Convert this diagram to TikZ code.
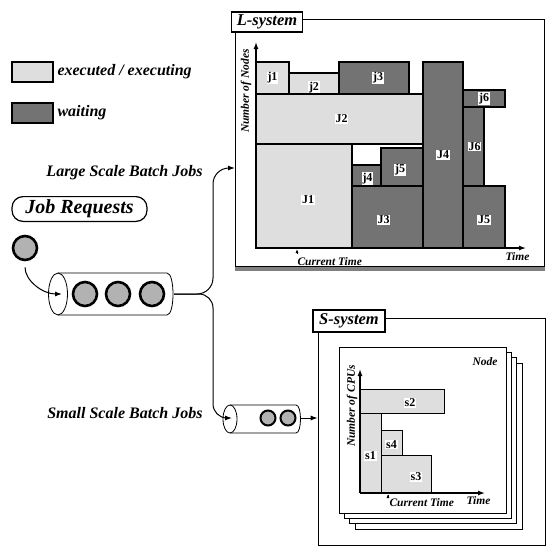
\documentclass[tikz,border=0pt]{standalone}
\usepackage{fontspec}
\setmainfont{Liberation Serif}
\usetikzlibrary{arrows.meta,positioning}

\begin{document}
\begin{tikzpicture}[x=1pt,y=-1pt,bar/.style={draw,line width=1.3pt,inner sep=0pt,outer sep=0pt},exec/.style={bar,fill=black!13},wait/.style={bar,fill=black!55},tag/.style={fill=white,inner sep=0.7pt,font=\bfseries\fontsize{12}{12}\selectfont},ital/.style={font=\bfseries\itshape\fontsize{16}{16}\selectfont},small/.style={font=\bfseries\itshape\fontsize{11.5}{11.5}\selectfont},title/.style={draw,line width=1.6pt,fill=white,inner sep=0pt,minimum height=20pt,font=\bfseries\itshape\fontsize{16.5}{16.5}\selectfont},frame/.style={draw,line width=0.7pt,fill=white,inner sep=0pt},sheet/.style={draw,line width=0.7pt,fill=white,inner sep=0pt,minimum width=167pt,minimum height=166pt},job/.style={draw,circle,fill=black!30,inner sep=0pt},axis/.style={line width=1.3pt,-{Latex[length=7pt,width=5pt]}},tick/.style={line width=0.8pt,-{Latex[length=4pt,width=3pt]}},flow/.style={line width=1pt,-{Latex[length=7pt,width=5pt]}}]
\useasboundingbox (0,0) rectangle (547,547);
\node[exec,minimum width=41pt,minimum height=20pt] (legexec) at (32.5,72) {};
\node[ital,right=1pt of legexec] (legexectxt) {executed / executing};
\node[wait,minimum width=41pt,minimum height=20pt] (legwait) at (32.5,113) {};
\node[ital,right=1pt of legwait] (legwaittxt) {waiting};
\node[draw,line width=1.2pt,rounded corners=11pt,minimum width=135pt,minimum height=23pt,font=\bfseries\itshape\fontsize{20}{20}\selectfont] (jobreq) at (79.5,209) {Job Requests};
\node[job,line width=2.6pt,minimum size=24pt] (newjob) at (25,248) {};
\draw[line width=0.8pt] (58,294) ellipse [x radius=9.5,y radius=21];
\draw[line width=0.8pt] (58,273) -- (167,273) .. controls (175,273) and (175,315) .. (167,315) -- (58,315);
\coordinate (bigin) at (62,294);
\coordinate (bigout) at (174,294);
\node[job,line width=2.6pt,minimum size=24pt] (q1) at (85,294) {};
\node[job,line width=2.6pt,minimum size=24pt] (q2) at (118,294) {};
\node[job,line width=2.6pt,minimum size=24pt] (q3) at (152,294) {};
\draw[flow,shorten <=6pt] (newjob.south) to[out=-90,in=180] (bigin);
\node[ital,anchor=east] (largetxt) at (206,173) {Large Scale Batch Jobs};
\node[ital,anchor=east] (smalltxt) at (206,413) {Small Scale Batch Jobs};
\fill[black!50] (235,265) rectangle (545,271);
\node[frame,minimum width=309pt,minimum height=247pt] (lsys) at (389.5,142.5) {};
\node[title,minimum width=71pt] (ltitle) at (267,22) {L-system};
\coordinate (lin) at (235,168);
\draw[flow,rounded corners=16pt] (bigout) -- (213,294) -- (213,168) -- (lin);
\node[exec,minimum width=33pt,minimum height=32pt,label={[tag]center:j1}] (j1) at (272.5,78) {};
\node[exec,minimum width=50pt,minimum height=21pt,label={[tag,yshift=-4pt]center:j2}] (j2) at (314,83.5) {};
\node[wait,minimum width=70pt,minimum height=32pt,label={[tag,xshift=4pt]center:j3}] (j3) at (374,78) {};
\node[exec,minimum width=167pt,minimum height=50pt,label={[tag,xshift=2pt]center:J2}] (J2) at (339.5,119) {};
\node[exec,minimum width=96pt,minimum height=104pt,label={[tag,xshift=4pt,yshift=-4pt]center:J1}] (J1) at (304,196) {};
\node[wait,minimum width=29pt,minimum height=21pt,label={[tag,xshift=1pt,yshift=-3pt]center:j4}] (j4) at (366.5,175.5) {};
\node[wait,minimum width=42pt,minimum height=38pt,label={[tag,xshift=-2pt,yshift=-3pt]center:j5}] (j5) at (402,167) {};
\node[wait,minimum width=71pt,minimum height=62pt,label={[tag,xshift=-4pt,yshift=-3pt]center:J3}] (J3) at (387.5,217) {};
\node[wait,minimum width=40pt,minimum height=186pt,label={[tag]center:J4}] (J4) at (443,155) {};
\node[wait,minimum width=42pt,minimum height=17pt,label={[tag]center:j6}] (j6) at (484,98.5) {};
\node[wait,minimum width=21pt,minimum height=79pt,label={[tag,xshift=1pt]center:J6}] (J6) at (473.5,146.5) {};
\node[wait,minimum width=42pt,minimum height=62pt,label={[tag,yshift=-3pt]center:J5}] (J5) at (484,217) {};
\coordinate (lorig) at (256,248);
\coordinate (ltop) at (256,42);
\coordinate (lend) at (526,248);
\draw[axis] (lorig) -- (ltop);
\draw[axis] (lorig) -- (lend);
\node[small,rotate=90] (lylab) at (246,91) {Number of Nodes};
\node[small,anchor=west] (lnow) at (294,262) {Current Time};
\coordinate (lnowpt) at (297,249);
\draw[tick] (lnowpt |- lnow.north) -- (lnowpt);
\node[small,anchor=west] (ltime) at (502,257) {Time};
\draw[line width=0.8pt] (230,419) ellipse [x radius=7,y radius=14];
\draw[line width=0.8pt] (230,405) -- (296,405) .. controls (302,405) and (302,433) .. (296,433) -- (230,433);
\coordinate (smallin) at (232,418);
\coordinate (smallout) at (301,418);
\node[job,line width=2pt,minimum size=15pt] (q4) at (268,418) {};
\node[job,line width=2pt,minimum size=15pt] (q5) at (288,418) {};
\draw[flow,rounded corners=14pt] (bigout) -- (213,294) -- (213,418) -- (smallin);
\node[frame,minimum width=227pt,minimum height=227pt] (ssys) at (431.5,431.5) {};
\node[title,minimum width=72pt,minimum height=22pt] (stitle) at (349,321) {S-system};
\draw[flow] (smallout) -- (smallout -| ssys.west);
\node[sheet] (sheet3) at (438.5,446) {};
\node[sheet] (sheet2) at (432.5,440) {};
\node[sheet] (sheet1) at (427.5,435) {};
\node[sheet] (sheet0) at (422.5,430) {};
\node[small,anchor=east] (nodetxt) at (501,362) {Node};
\node[exec,line width=1pt,minimum width=84pt,minimum height=24pt,label={[tag,xshift=8pt,yshift=-2pt]center:s2}] (s2) at (402,401) {};
\node[exec,line width=1pt,minimum width=21pt,minimum height=80pt,label={[tag,yshift=-3pt]center:s1}] (s1) at (370.5,453) {};
\node[exec,line width=1pt,minimum width=21pt,minimum height=25pt,label={[tag,yshift=-2pt]center:s4}] (s4) at (391.5,442.5) {};
\node[exec,line width=1pt,minimum width=50pt,minimum height=38pt,label={[tag,xshift=10pt,yshift=-3pt]center:s3}] (s3) at (406,474) {};
\coordinate (sorig) at (360,493);
\coordinate (stop) at (360,369);
\coordinate (send) at (485,493);
\draw[axis] (sorig) -- (stop);
\draw[axis] (sorig) -- (send);
\node[small,rotate=90] (sylab) at (352,406) {Number of CPUs};
\node[small,anchor=west] (snow) at (386,503) {Current Time};
\coordinate (snowpt) at (388,494);
\draw[tick] (snowpt |- snow.north) -- (snowpt);
\node[small,anchor=west] (stime) at (463,501) {Time};
\end{tikzpicture}
\end{document}
